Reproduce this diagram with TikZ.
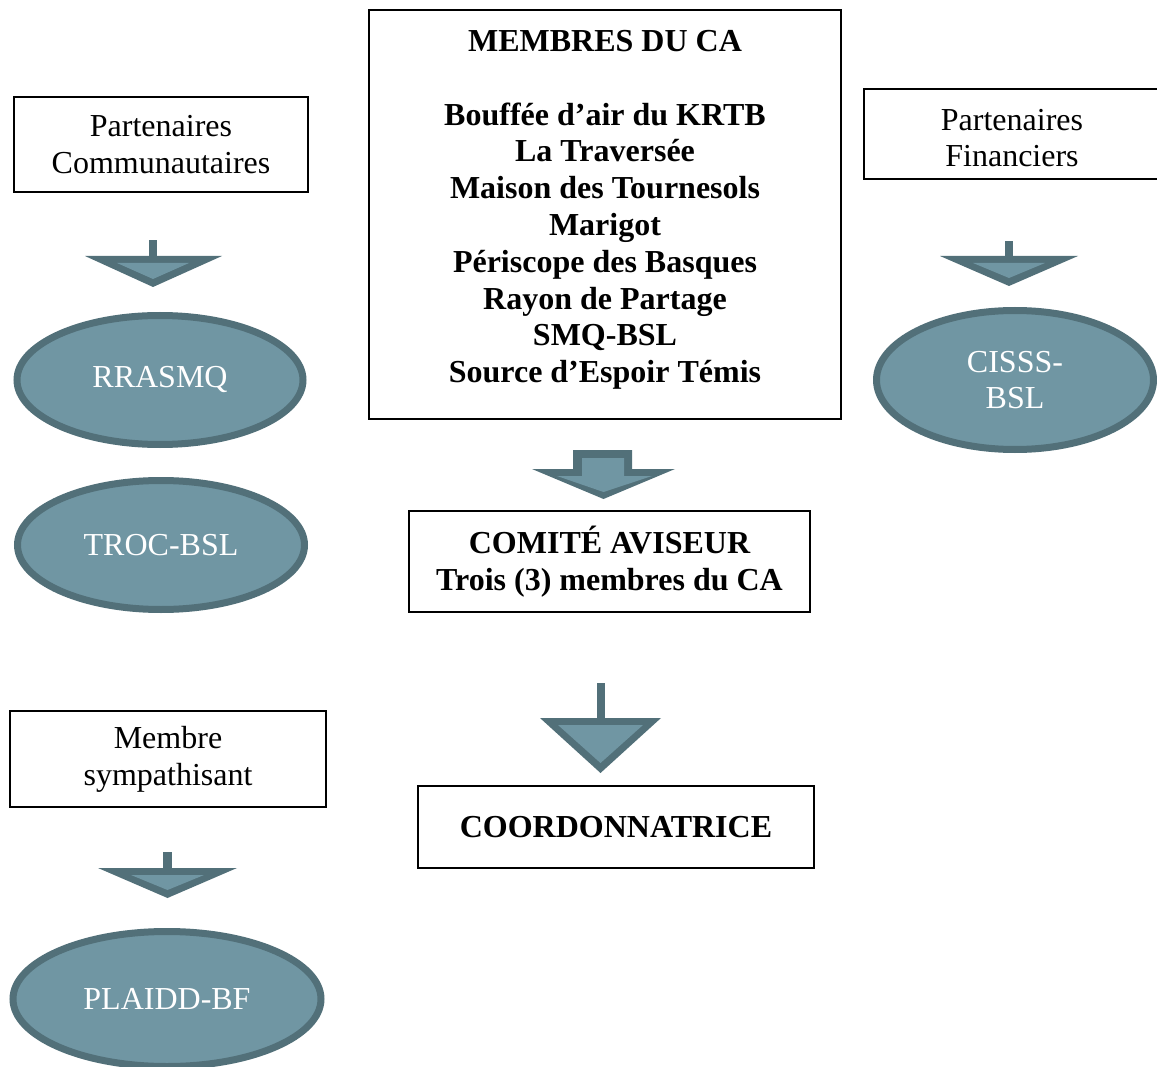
\documentclass[tikz,border=0pt]{standalone}
\usepackage{fontspec}
\setmainfont{Liberation Serif}
\usetikzlibrary{shapes.geometric}
\definecolor{fillc}{RGB}{112,150,163}
\definecolor{darkc}{RGB}{82,112,121}
\newcommand\diagfs{\fontsize{32}{36.8}\selectfont}
\begin{document}
\begin{tikzpicture}[x=1pt,y=-1pt,
  box/.style={draw=black, line width=1.5pt, inner sep=0pt, align=center, font=\diagfs},
  btext/.style={inner sep=0pt, align=center, font=\diagfs\bfseries},
  rtext/.style={inner sep=0pt, align=center, font=\diagfs},
  ell/.style={ellipse, draw=darkc, fill=fillc, line width=7pt, text=white, inner sep=0pt, align=center, font=\diagfs},
  arrdark/.style={fill=darkc},
  arrlight/.style={fill=fillc}]
\useasboundingbox (0,0) rectangle (1157,1067);
\fill[white] (0,0) rectangle (1157,1067);
\clip (0,0) rectangle (1157,1067);

% boxes
\node[box, minimum width=294pt, minimum height=95pt] (pc) at (161,144.5) {Partenaires\\Communautaires};
\node[box, minimum width=472pt, minimum height=409pt] (ca) at (605,214.5) {};
\node[btext] (catext) at (605,210) {MEMBRES DU CA\\[36.8pt]Bouffée d’air du KRTB\\La Traversée\\Maison des Tournesols\\Marigot\\Périscope des Basques\\Rayon de Partage\\SMQ-BSL\\Source d’Espoir Témis};
\node[box, minimum width=310pt, minimum height=90pt] (pf) at (1019,134) {};
\node[rtext] (pftext) at (1012,138) {Partenaires\\Financiers};
\node[box, font=\diagfs\bfseries, minimum width=401pt, minimum height=101pt] (com) at (609.5,561.5) {COMITÉ AVISEUR\\Trois (3) membres du CA};
\node[box, font=\diagfs\bfseries, minimum width=396pt, minimum height=82pt] (coord) at (616,827) {COORDONNATRICE};
\node[box, minimum width=316pt, minimum height=96pt] (ms) at (168,759) {Membre\\sympathisant};

% ellipses
\node[ell, minimum width=286pt, minimum height=129pt] (rr) at (160,380) {RRASMQ};
\node[ell, minimum width=287pt, minimum height=129pt] (troc) at (161,545) {TROC-BSL};
\node[ell, minimum width=277pt, minimum height=139pt] (cis) at (1015,380) {CISSS-\\BSL};
\node[ell, minimum width=308pt, minimum height=135pt] (pl) at (167,999) {PLAIDD-BF};

% small arrow left top
\fill[arrdark] (149,240) rectangle (157,258);
\fill[arrdark] (85,256) -- (222,256) -- (153,287) -- cycle;
\fill[arrlight] (117,263) -- (189,263) -- (153,279) -- cycle;
% small arrow right top
\fill[arrdark] (1005,241) rectangle (1013,258);
\fill[arrdark] (940,256) -- (1078,256) -- (1009,286) -- cycle;
\fill[arrlight] (973,263) -- (1045,263) -- (1009,278) -- cycle;
% small arrow left bottom
\fill[arrdark] (163,852) rectangle (172,870);
\fill[arrdark] (98,868) -- (237,868) -- (167.5,898) -- cycle;
\fill[arrlight] (131,875) -- (204,875) -- (167.5,890) -- cycle;
% block arrow under CA
\fill[arrdark] (573,450) -- (632,450) -- (632,469) -- (675,469) -- (603.5,499) -- (532,469) -- (573,469) -- cycle;
\fill[arrlight] (582,458) -- (624,458) -- (624,476) -- (652,476) -- (603.5,492) -- (557,476) -- (582,476) -- cycle;
% arrow above COORDONNATRICE
\fill[arrdark] (597,683) rectangle (605,720);
\fill[arrdark] (540,718) -- (661,718) -- (600.5,773) -- cycle;
\fill[arrlight] (558,725) -- (643,725) -- (600.5,763) -- cycle;
\end{tikzpicture}
\end{document}
